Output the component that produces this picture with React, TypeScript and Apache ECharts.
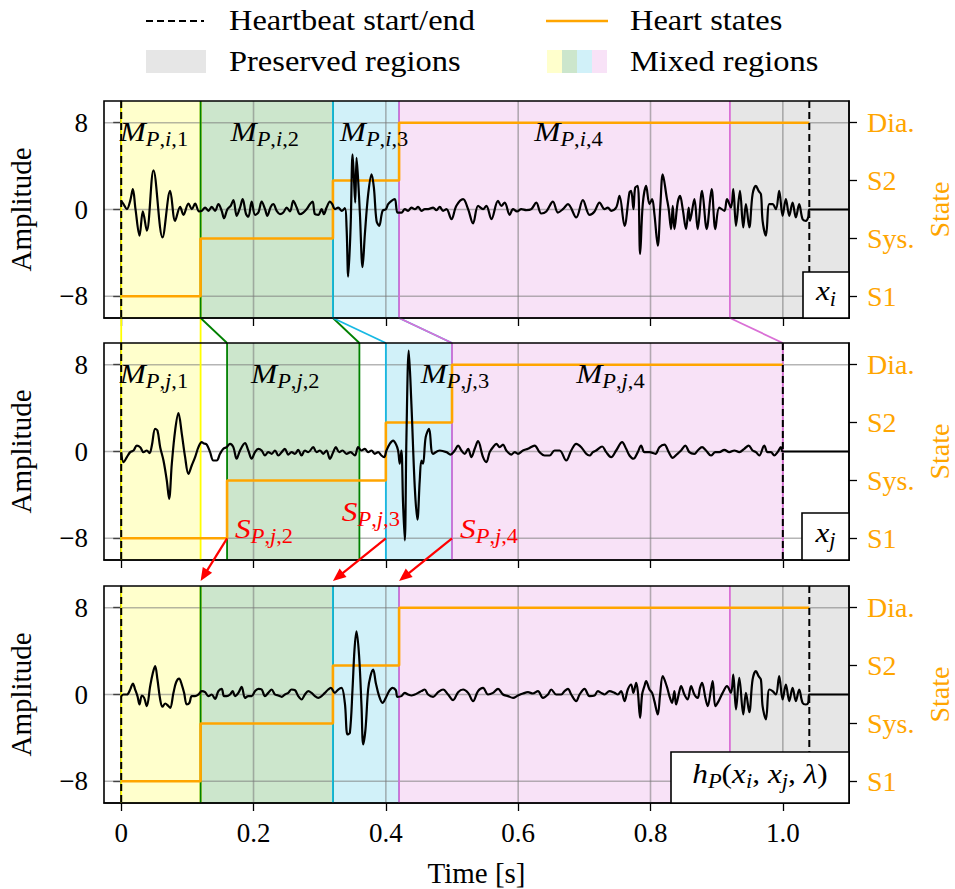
import React, { useEffect, useRef } from 'react';
import * as echarts from 'echarts';

const FONT = '"Liberation Serif", "Times New Roman", serif';
const FAMILY = 'Liberation Serif';

// ---------- data ----------
const xTicks = [0, 0.2, 0.4, 0.6, 0.8, 1.0];
const yTicks = [-8, 0, 8];
const stateLevels = [-8, -2.667, 2.667, 8];
const stateNames = ['S1', 'Sys.', 'S2', 'Dia.'];

// regions: [start, end, kind] kind 0 yellow, 1 green, 2 cyan, 3 pink (mixed), 4 gray (preserved)
const regionsI = [[0, 0.12, 0], [0.12, 0.32, 1], [0.32, 0.42, 2], [0.42, 0.92, 3], [0.92, 1.1, 4]];
const regionsJ = [[0, 0.12, 0], [0.16, 0.36, 1], [0.4, 0.5, 2], [0.5, 1.0, 3]];
const regionsH = [[0, 0.12, 0], [0.12, 0.32, 1], [0.32, 0.42, 2], [0.42, 0.92, 3], [0.92, 1.1, 4]];

const beatsI = [0, 1.04];
const beatsJ = [0, 1.0];
const beatsH = [0, 1.04];

const statesI = [[0, -8], [0.12, -2.667], [0.32, 2.667], [0.42, 8], [1.04, 8]];
const statesJ = [[0, -8], [0.16, -2.667], [0.4, 2.667], [0.5, 8], [1.0, 8]];
const statesH = [[0, -8], [0.12, -2.667], [0.32, 2.667], [0.42, 8], [1.04, 8]];

const signalXi = [
  [0, 0.8], [0.0035, 0.49], [0.0086, 0.03], [0.0136, 0.8], [0.0176, 1.87], [0.0216, 0.03], [0.0277, -2.42], [0.0327, -0.18], [0.0387, -1.96], [0.0488, 3.61], [0.0624, -2.57], [0.074, 1.71], [0.0815, -1.04], [0.0891, 0.24], [0.0941, -0.49], [0.1016, 0.55], [0.1067, 0.03], [0.1117, 0.55], [0.1177, -0.18],
  [0.1218, -0.12], [0.1268, 0.18], [0.1318, -0.12], [0.1369, 0.24], [0.1419, -0.12], [0.1469, 0.49], [0.1519, -0.12], [0.1555, -0.8], [0.1605, 0.03], [0.1655, 0.34], [0.1696, 0.86], [0.1746, -0.58], [0.1796, 0.18], [0.1836, 0.95], [0.1887, -0.43], [0.1922, -0.67], [0.1972, 0.73], [0.2023, -0.49], [0.2073, -0.28], [0.2123, 0.73], [0.2174, 0.03], [0.2209, -0.58], [0.2259, 0.24], [0.2299, 0.49], [0.235, -0.12], [0.24, -0.43], [0.245, -0.28], [0.2501, 0.18], [0.2551, -0.18], [0.2601, 0.8], [0.2652, 0.18], [0.2702, -0.43], [0.2752, -0.28], [0.2803, 0.03], [0.2853, 0.49], [0.2893, 0.73], [0.2928, -0.43], [0.2979, -0.49], [0.3029, 0.03], [0.3064, -0.43], [0.3104, 0.18], [0.3155, 0.73], [0.319, 0.49],
  [0.323, 0.03], [0.328, 0.18], [0.3331, -0.12], [0.3381, 0.12], [0.3406, -1.65], [0.3431, -6.18], [0.3467, -1.65], [0.3497, 5.08], [0.3517, 2.94], [0.3537, 0.64], [0.3557, 4.77], [0.3582, 2.63], [0.3608, -0.43], [0.3648, -5.32], [0.3683, -2.26], [0.3733, 1.41], [0.3784, 3.24], [0.3819, 2.02], [0.3859, -1.04], [0.3899, -1.5], [0.395, -0.12], [0.4, 0.03], [0.4035, 0.49], [0.4086, 0.8], [0.4136, 0.95], [0.4176, -0.28],
  [0.4236, -0.28], [0.4287, 0.03], [0.4337, -0.12], [0.4387, 0.18], [0.4438, 0.03], [0.4488, 0.24], [0.4538, -0.12], [0.4589, 0.03], [0.4639, 0.03], [0.4714, 0.18], [0.4765, -0.06], [0.4815, 0.24], [0.4865, -0.12], [0.4916, 0.03], [0.4991, -0.89], [0.5066, 0.34], [0.5167, 0.95], [0.5243, 0.03], [0.5318, -1.28], [0.5394, 0.34], [0.5469, 0.03], [0.5519, 0.34], [0.5595, -0.89], [0.5695, 0.8], [0.5746, 0.34], [0.5796, 0.64], [0.5872, -0.49], [0.5922, 0.03], [0.5982, -0.18], [0.6047, 0.03], [0.6123, -0.06], [0.6198, 0.03], [0.6274, 0.64], [0.6349, -0.37], [0.6425, -0.18], [0.6525, 0.73], [0.6601, -0.28], [0.6676, 0.03], [0.6752, 0.49], [0.6877, -0.73], [0.6978, 0.86], [0.7079, -0.49], [0.7154, -0.18], [0.7229, 0.64], [0.7305, 0.03], [0.7355, 0.18], [0.7405, -0.12], [0.7481, 0.18], [0.7531, 1.25], [0.7607, -1.5], [0.7682, 1.56], [0.7707, 1.71], [0.7742, 0.03], [0.7768, 2.02], [0.7808, 2.17], [0.7843, -4.1], [0.7883, 0.49], [0.7934, 2.17], [0.7984, 0.49], [0.8024, 0.95], [0.8059, -0.43], [0.811, -3.33], [0.815, 0.49], [0.8185, 3.24], [0.8245, 1.1], [0.8275, 0.03], [0.8311, -1.8], [0.8336, 0.34], [0.8361, -1.8], [0.8411, 0.64], [0.8446, 1.25], [0.8487, 0.03], [0.8537, -1.8], [0.8577, 0.18], [0.8597, -1.04], [0.8663, 0.95], [0.8713, -1.8], [0.8779, 1.71], [0.8849, -1.8], [0.8924, 1.87], [0.898, -1.8], [0.904, 0.18], [0.9116, -0.12], [0.9156, 0.95],
  [0.9216, 0.18], [0.9251, 1.87], [0.9292, -1.5], [0.9352, 1.71], [0.9402, -1.65], [0.9442, 0.49], [0.9493, -1.65], [0.9543, 1.41], [0.9593, 2.17], [0.9634, 1.71], [0.9669, 1.41], [0.9694, -1.04], [0.9744, -2.42], [0.9795, 0.49], [0.9845, 0.49], [0.9895, 0.03], [0.9945, 1.71], [0.9996, -0.58], [1.0046, 0.95], [1.0097, -0.58], [1.0147, 0.64], [1.0197, -0.73], [1.0247, 0.49], [1.0298, -0.89], [1.0348, -1.04], [1.0383, -0.73], [1.04, 0], [1.1, 0],
];

const signalXj = [
  [0, -0.06], [0.0035, -0.98], [0.0086, -0.52], [0.0136, -0.06], [0.0186, 0.09], [0.0236, 0.55], [0.0287, 0.4], [0.0337, -0.06], [0.0387, 0.09], [0.0428, -0.15], [0.0463, 0.55], [0.0513, 2.09], [0.0548, 1.93], [0.0589, 0.4], [0.0639, -0.83], [0.0689, -2.67], [0.0724, -4.36], [0.0765, -1.13], [0.0815, 1.93], [0.0865, 3.53], [0.0916, 1.63], [0.0966, -0.52], [0.1016, -2.06], [0.1066, -1.29], [0.1117, -0.52], [0.1167, 0.4], [0.1217, 0.86],
  [0.1242, 0.77], [0.1293, 0.64], [0.1343, -0.06], [0.1393, -0.83], [0.1443, -0.83], [0.1494, -0.21], [0.1544, 0.25], [0.1594, 0.4], [0.1645, 0.71], [0.1695, 0.4], [0.1745, -0.67], [0.1796, 0.09], [0.1871, 0.77], [0.1921, 0.09], [0.1972, -0.67], [0.2022, -0.06], [0.2072, 0.25], [0.2123, 0.09], [0.2173, -0.37], [0.2223, -0.06], [0.2274, -0.21], [0.2324, 0.09], [0.2375, -0.37], [0.2425, -0.06], [0.2475, 0.25], [0.2525, -0.28], [0.2575, -0.06], [0.2626, -0.21], [0.2676, 0.15], [0.2726, -0.37], [0.2777, 0.09], [0.2827, -0.06], [0.2902, 0.4], [0.2953, -0.06], [0.3003, 0.09], [0.3053, -0.21], [0.3103, 0.09], [0.3154, -0.67], [0.3204, -0.06], [0.3244, 0.4], [0.3295, -0.06], [0.3345, 0.09], [0.3405, -0.21], [0.3466, -0.06], [0.3531, -0.37], [0.3581, 0.4], [0.3632, 0.09], [0.3682, 0.25], [0.3732, -0.06], [0.3783, 0.09], [0.3833, -0.21], [0.3883, -0.06], [0.3933, -0.37], [0.3974, -0.52],
  [0.4009, 0.09], [0.4059, 0.71], [0.411, 1.01], [0.415, 0.71], [0.4185, 0.09], [0.421, -1.13], [0.4235, 0.09], [0.426, -4.82], [0.4286, -8.19], [0.4311, 1.32], [0.4346, 9.29], [0.4386, 4.39], [0.4437, -3.28], [0.4477, -6.29], [0.4512, -2.67], [0.4537, -0.83], [0.4562, -1.13], [0.4602, 1.32], [0.4653, 2.09], [0.4713, -0.21], [0.4815, 0.09], [0.4916, -0.06], [0.4976, -0.28],
  [0.5041, 0.09], [0.5092, 0.55], [0.5142, 0.09], [0.5192, -0.21], [0.5243, 0.25], [0.5293, -0.52], [0.5343, 0.25], [0.5393, 0.95], [0.5469, -0.52], [0.5519, -0.98], [0.5569, -0.06], [0.562, 0.4], [0.567, 0.71], [0.572, 0.4], [0.5771, 0.64], [0.5821, 0.09], [0.5896, -0.28], [0.5947, -0.06], [0.5997, -0.21], [0.6072, 0.09], [0.6148, 0.25], [0.6248, 0.55], [0.6324, -0.06], [0.6399, -0.37], [0.6475, -0.37], [0.655, 0.09], [0.6626, 0.09], [0.6726, -0.83], [0.6802, 0.09], [0.6877, 0.71], [0.6953, 0.4], [0.7028, -0.21], [0.7078, -0.37], [0.7129, -0.06], [0.7179, 0.09], [0.727, 0.46], [0.733, -0.06], [0.7405, -0.52], [0.7481, 0.09], [0.7571, 0.86], [0.7632, 0.25], [0.7682, -0.37], [0.7742, -0.67], [0.7808, -0.06], [0.7858, 0.55], [0.7908, -0.06], [0.7984, -0.06], [0.8074, -0.21], [0.8135, 0.4], [0.821, 0.64], [0.8275, -0.06], [0.8336, -0.58], [0.8396, -0.28], [0.8462, 0.09], [0.8527, 0.55], [0.8587, -0.06], [0.8663, -0.21], [0.8713, 0.09], [0.8779, 0.4], [0.8839, 0.09], [0.8914, -0.37], [0.898, -0.06], [0.904, -0.06], [0.9116, 0.15], [0.9191, -0.06], [0.9267, 0.09], [0.9342, -0.06], [0.9417, 0.25], [0.9483, 0.55], [0.9543, 0.09], [0.9593, -0.06], [0.9644, -0.37], [0.9719, 0.55], [0.9769, -0.06], [0.982, -0.06], [0.987, -0.37], [0.992, -0.06], [0.9971, 0.4], [1.0, 0], [1.1, 0],
];

const signalH = [
  [0, -0.15], [0.0035, 0], [0.0086, 0], [0.0136, 0.46], [0.0176, 1.01], [0.0211, 0.46], [0.0246, -0.15], [0.0277, -0.92], [0.0312, -0.09], [0.0347, -0.31], [0.0387, -1.07], [0.0438, 0.77], [0.0478, 1.99], [0.0513, 2.61], [0.0548, 1.38], [0.0589, -0.46], [0.0624, -1.13], [0.0664, -0.83], [0.0714, -1.07], [0.074, -1.23], [0.079, 0.15], [0.083, 1.13], [0.0875, 1.47], [0.0915, 0.92], [0.0951, 0.15], [0.0991, -0.92], [0.1031, -0.77], [0.1066, -0.15], [0.1117, -0.15], [0.1167, 0],
  [0.1217, 0.31], [0.1268, 0.21], [0.1318, -0.15], [0.1368, 0], [0.1418, -0.4], [0.1469, 0.31], [0.1519, 0.52], [0.1554, -0.15], [0.1594, -0.15], [0.1645, 0], [0.1685, 0.31], [0.172, -0.15], [0.1771, 0.15], [0.1821, 0.71], [0.1871, -0.31], [0.1921, -0.15], [0.1972, -0.15], [0.2022, 0.31], [0.2072, 0.52], [0.2123, 0.46], [0.2173, -0.15], [0.2223, 0.15], [0.2274, 0.46], [0.2324, 0], [0.2374, -0.09], [0.2425, -0.21], [0.2475, 0], [0.2525, 0.15], [0.2575, 0.46], [0.2626, 0.4], [0.2676, -0.15], [0.2726, -0.46], [0.2777, 0], [0.2827, 0.31], [0.2877, 0.15], [0.2928, -0.15], [0.2978, -0.31], [0.3028, -0.15], [0.3078, 0.15], [0.3129, 0.46], [0.3169, 0.61],
  [0.3229, 0.15], [0.328, 0.46], [0.333, 0.61], [0.338, -0.77], [0.342, -3.68], [0.3456, -3.53], [0.3496, 0.46], [0.3526, 4.14], [0.3556, 5.83], [0.3596, 3.53], [0.3632, -1.07], [0.3657, -4.6], [0.3692, -3.22], [0.3732, 0.46], [0.3767, 1.69], [0.3808, 2.3], [0.3848, 1.07], [0.3898, -0.15], [0.3949, -0.77], [0.3999, -0.31], [0.4049, 0.31], [0.41, 0.61], [0.415, 0.4], [0.4175, -0.21],
  [0.4235, -0.15], [0.4286, 0.15], [0.4336, 0], [0.4386, -0.09], [0.4437, 0], [0.4487, 0.15], [0.4537, 0.31], [0.4587, 0.46], [0.4638, 0], [0.4714, -0.21], [0.479, 0.21], [0.4865, 0.46], [0.4941, 0], [0.5016, -0.52], [0.5092, 0.21], [0.5167, 0.46], [0.5243, 0.15], [0.5318, -0.61], [0.5393, 0.31], [0.5469, 0.61], [0.5544, 0], [0.562, 0.15], [0.5695, 0.52], [0.5771, 0], [0.5846, -0.15], [0.5922, -0.31], [0.5997, -0.09], [0.6072, 0.09], [0.6148, 0.21], [0.6223, 0.09], [0.6299, 0.31], [0.6374, -0.31], [0.645, 0], [0.65, 0.46], [0.6575, 0], [0.6651, 0], [0.6701, 0.31], [0.6752, 0.52], [0.6802, 0], [0.6877, -0.61], [0.6928, 0], [0.7003, 0.52], [0.7078, -0.15], [0.7154, -0.09], [0.7204, 0.31], [0.7254, 0.15], [0.7305, 0], [0.738, 0.31], [0.7456, 0.15], [0.7506, 0], [0.7556, 0.31], [0.7607, -0.61], [0.7657, 0.46], [0.7707, 0.92], [0.7742, 0.15], [0.7783, 1.07], [0.7808, 0.31], [0.7843, -2.15], [0.7873, 0], [0.7908, 0.77], [0.7934, 1.23], [0.7984, 0.46], [0.8024, 0.15], [0.8059, -0.61], [0.811, -1.84], [0.8145, 0], [0.8185, 1.69], [0.8245, 0.77], [0.8286, -0.15], [0.8326, -0.77], [0.8361, 0.31], [0.8386, -0.92], [0.8437, 0.31], [0.8462, 0.77], [0.8512, 0], [0.8562, -0.46], [0.8613, 0.77], [0.8663, 0], [0.8713, -0.31], [0.8748, 0.61], [0.8779, 1.07], [0.8829, -0.31], [0.8864, -1.07], [0.8914, 0.46], [0.894, 1.23], [0.898, -1.07], [0.903, -0.61], [0.909, 0.15], [0.9156, 0.77],
  [0.9216, 0.15], [0.9251, 1.84], [0.9292, -1.38], [0.9342, 1.53], [0.9402, -1.84], [0.9442, 0.15], [0.9493, -1.63], [0.9543, 1.38], [0.9593, 2.15], [0.9634, 1.69], [0.9669, 1.38], [0.9694, -1.07], [0.9744, -2.3], [0.9795, 0.46], [0.9845, 0.31], [0.9895, 0], [0.9945, 1.69], [0.9996, -0.46], [1.0046, 0.92], [1.0097, -0.61], [1.0147, 0.61], [1.0197, -0.61], [1.0247, 0.46], [1.0298, -0.77], [1.0348, -0.92], [1.0383, -0.77], [1.04, 0], [1.1, 0],
];

const panelTags = ['i', 'j'];

// ---------- styles / layout ----------
const XMIN = -0.026, XMAX = 1.1, YMIN = -10, YMAX = 10;
const GRID_LEFT = 104, GRID_WIDTH = 745;
const GRID_TOPS = [101, 343, 586];
const GRID_HEIGHT = 217;
const FILLS = ['rgba(255,255,0,0.2)', 'rgba(0,128,0,0.2)', 'rgba(23,185,227,0.2)', 'rgba(218,112,214,0.2)', 'rgba(128,128,128,0.2)'];
const STROKES = ['#ffff00', '#008000', '#17b9e3', '#da70d6'];
const ORANGE = '#ffa500';
const TEXT_SX = 1.12;

let measureCtx: CanvasRenderingContext2D | null = null;
function measure(t: string, size: number, italic: boolean) {
  if (!measureCtx) measureCtx = document.createElement('canvas').getContext('2d');
  measureCtx!.font = `${italic ? 'italic ' : ''}${size}px "Liberation Serif"`;
  return measureCtx!.measureText(t).width;
}

type Piece = { t: string; it?: boolean; sub?: boolean };
function mathGroup(pieces: Piece[], x: number, y: number, size: number, color: string, align: 'left' | 'center', z: number) {
  const subSize = Math.round(size * 0.7);
  let cx = 0;
  const children: any[] = [];
  for (const p of pieces) {
    const s = p.sub ? subSize : size;
    const w = measure(p.t, s, !!p.it);
    children.push({
      type: 'text', x: cx, y: p.sub ? size * 0.3 : 0, z,
      style: {
        text: p.t, font: `${p.it ? 'italic ' : ''}${s}px ${FONT}`, fill: color,
        textAlign: 'left', align: 'left', textVerticalAlign: 'middle', verticalAlign: 'middle',
      },
    });
    cx += w;
  }
  const off = align === 'center' ? -cx / 2 : 0;
  children.forEach((c) => (c.x += off));
  return { type: 'group', x, y, scaleX: TEXT_SX, silent: true, children };
}

function plainText(t: string, x: number, y: number, size: number, z: number) {
  return {
    type: 'text', x, y, z, scaleX: TEXT_SX, silent: true,
    style: { text: t, font: `${size}px ${FONT}`, fill: '#000', textAlign: 'left', align: 'left', textVerticalAlign: 'middle', verticalAlign: 'middle' },
  };
}

const panels = [
  { signal: signalXi, states: statesI, regions: regionsI, beats: beatsI },
  { signal: signalXj, states: statesJ, regions: regionsJ, beats: beatsJ },
  { signal: signalH, states: statesH, regions: regionsH, beats: beatsH },
];

function buildOption() {
  const grid: any[] = [], xAxis: any[] = [], yAxis: any[] = [], series: any[] = [];
  panels.forEach((p, g) => {
    grid.push({ left: GRID_LEFT, top: GRID_TOPS[g], width: GRID_WIDTH, height: GRID_HEIGHT, containLabel: false, outerBoundsMode: 'none' });
    xAxis.push({
      type: 'value', gridIndex: g, min: XMIN, max: XMAX,
      axisLine: { show: true, onZero: false, lineStyle: { color: '#000', width: 1.5 } },
      splitLine: { show: false },
      axisTick: { show: true, customValues: xTicks, length: 8, lineStyle: { color: '#000', width: 1.3 } },
      axisLabel: {
        show: g === 2, customValues: xTicks, margin: 16, fontSize: 27, fontFamily: FAMILY, color: '#000',
        formatter: (v: number) => (v === 0 ? '0' : v.toFixed(1)),
      },
      name: g === 2 ? 'Time [s]' : '', nameLocation: 'middle', nameGap: 55,
      nameTextStyle: { fontSize: 29, fontFamily: FAMILY, color: '#000' },
    });
    yAxis.push({
      type: 'value', gridIndex: g, position: 'left', min: YMIN, max: YMAX,
      axisLine: { show: true, lineStyle: { color: '#000', width: 1.5 } },
      splitLine: { show: false },
      axisTick: { show: true, customValues: yTicks, length: 8, lineStyle: { color: '#000', width: 1.3 } },
      axisLabel: {
        customValues: yTicks, margin: 16, fontSize: 27, fontFamily: FAMILY, color: '#000',
        formatter: (v: number) => (v < 0 ? '\u2212' + Math.abs(v) : String(v)),
      },
      name: 'Amplitude', nameLocation: 'middle', nameRotate: 90, nameGap: 69,
      nameTextStyle: { fontSize: 29, fontFamily: FAMILY, color: '#000' },
    });
    yAxis.push({
      type: 'value', gridIndex: g, position: 'right', min: YMIN, max: YMAX,
      axisLine: { show: true, lineStyle: { color: '#000', width: 1.5 } },
      splitLine: { show: false },
      axisTick: { show: true, customValues: stateLevels, length: 8, lineStyle: { color: '#000', width: 1.3 } },
      axisLabel: {
        customValues: stateLevels, margin: 18, fontSize: 28, fontFamily: FAMILY, color: ORANGE,
        formatter: (v: number) => {
          let best = 0;
          stateLevels.forEach((s, k) => { if (Math.abs(s - v) < Math.abs(stateLevels[best] - v)) best = k; });
          return stateNames[best];
        },
      },
      name: 'State', nameLocation: 'middle', nameRotate: 90, nameGap: 74,
      nameTextStyle: { fontSize: 28, fontFamily: FAMILY, color: ORANGE },
    });
    const yi = 2 * g;
    series.push({
      type: 'custom', xAxisIndex: g, yAxisIndex: yi, z: 1, silent: true, data: p.regions,
      renderItem: (_: any, api: any) => {
        const a = api.coord([api.value(0), YMAX]);
        const b = api.coord([api.value(1), YMIN]);
        return { type: 'rect', shape: { x: a[0], y: a[1], width: b[0] - a[0], height: b[1] - a[1] }, style: { fill: FILLS[api.value(2)] } };
      },
    });
    const gridData = xTicks.map((v) => [v, 0]).concat(yTicks.map((v) => [v, 1]));
    series.push({
      type: 'custom', xAxisIndex: g, yAxisIndex: yi, z: 2, silent: true, data: gridData,
      renderItem: (_: any, api: any) => {
        const v = api.value(0);
        const o = api.value(1);
        const a = o === 0 ? api.coord([v, YMAX]) : api.coord([XMIN, v]);
        const b = o === 0 ? api.coord([v, YMIN]) : api.coord([XMAX, v]);
        return { type: 'line', shape: { x1: a[0], y1: a[1], x2: b[0], y2: b[1] }, style: { stroke: 'rgba(120,120,120,0.55)', lineWidth: 1.6 } };
      },
    });
    const boundData: number[][] = [];
    p.regions.forEach((r) => { if (r[2] < 4) { boundData.push([r[0], r[2]]); boundData.push([r[1], r[2]]); } });
    series.push({
      type: 'custom', xAxisIndex: g, yAxisIndex: yi, z: 3, silent: true, data: boundData,
      renderItem: (_: any, api: any) => {
        const a = api.coord([api.value(0), YMAX]);
        const b = api.coord([api.value(0), YMIN]);
        return { type: 'line', shape: { x1: a[0], y1: a[1], x2: b[0], y2: b[1] }, style: { stroke: STROKES[api.value(1)], lineWidth: 1.8 } };
      },
    });
    series.push({
      type: 'line', xAxisIndex: g, yAxisIndex: yi, z: 4, silent: true, step: 'end', data: p.states,
      symbol: 'none', showSymbol: false, lineStyle: { color: ORANGE, width: 2.6 },
    });
    series.push({
      type: 'line', xAxisIndex: g, yAxisIndex: yi, z: 5, silent: true, data: p.signal, smooth: 0.35,
      symbol: 'none', showSymbol: false, lineStyle: { color: '#000', width: 2.2 },
    });
    series.push({
      type: 'custom', xAxisIndex: g, yAxisIndex: yi, z: 6, silent: true, data: p.beats.map((b) => [b, 0]),
      renderItem: (_: any, api: any) => {
        const a = api.coord([api.value(0), YMAX]);
        const b = api.coord([api.value(0), YMIN]);
        return { type: 'line', shape: { x1: a[0], y1: a[1], x2: b[0], y2: b[1] }, style: { stroke: '#000', lineWidth: 2, lineDash: [7, 4] } };
      },
    });
  });
  return { animation: false, backgroundColor: '#fff', grid, xAxis, yAxis, series };
}

function buildGraphics(chart: echarts.ECharts) {
  const px = (g: number, x: number, y: number) => chart.convertToPixel({ gridIndex: g }, [x, y]) as number[];
  const els: any[] = [];
  // frames
  panels.forEach((_, g) => {
    const a = px(g, XMIN, YMAX), b = px(g, XMAX, YMIN);
    els.push({ type: 'rect', z: 90, silent: true, shape: { x: a[0], y: a[1], width: b[0] - a[0], height: b[1] - a[1] }, style: { fill: 'none', stroke: '#000', lineWidth: 1.6 } });
  });
  // connectors between panel 1 and panel 2
  regionsI.forEach((ri) => {
    const k = ri[2];
    if (k > 3) return;
    const rj = regionsJ.find((r) => r[2] === k)!;
    [0, 1].forEach((e) => {
      const a = px(0, ri[e], YMIN), b = px(1, rj[e], YMAX);
      els.push({ type: 'line', z: 80, silent: true, shape: { x1: a[0], y1: a[1], x2: b[0], y2: b[1] }, style: { stroke: STROKES[k], lineWidth: 1.8 } });
    });
  });
  // M labels
  const nudges = [[-7, -2, 8, 4], [-7, -8, 36, -7]];
  [0, 1].forEach((g) => {
    panels[g].regions.forEach((r) => {
      const k = r[2];
      if (k > 3) return;
      const c = px(g, (r[0] + r[1]) / 2, 7.2);
      els.push(mathGroup([
        { t: 'M', it: true }, { t: 'P', it: true, sub: true }, { t: ',', sub: true }, { t: panelTags[g], it: true, sub: true }, { t: ',', sub: true }, { t: String(k + 1), sub: true },
      ], c[0] + nudges[g][k], c[1], 28, '#000', 'center', 60));
    });
  });
  // red arrows
  const labelOff = [[8, -10], [-44, -27], [8, -10]];
  [1, 2, 3].forEach((k, n) => {
    const s = px(1, statesJ[k][0], statesJ[0][1]);
    const e0 = px(2, regionsH[k][0], YMAX);
    const e = [e0[0], e0[1] - 5];
    const dx = e[0] - s[0], dy = e[1] - s[1];
    const L = Math.hypot(dx, dy);
    const ux = dx / L, uy = dy / L;
    const hl = 13, hw = 5.5;
    const bx = e[0] - ux * hl, by = e[1] - uy * hl;
    els.push({ type: 'line', z: 97, silent: true, shape: { x1: s[0], y1: s[1], x2: bx + ux * 2, y2: by + uy * 2 }, style: { stroke: '#ff0000', lineWidth: 2.2 } });
    els.push({ type: 'polygon', z: 97, silent: true, shape: { points: [[e[0], e[1]], [bx - uy * hw, by + ux * hw], [bx + uy * hw, by - ux * hw]] }, style: { fill: '#ff0000' } });
    els.push(mathGroup([
      { t: 'S', it: true }, { t: 'P', it: true, sub: true }, { t: ',', sub: true }, { t: 'j', it: true, sub: true }, { t: ',', sub: true }, { t: String(k + 1), sub: true },
    ], s[0] + labelOff[n][0], s[1] + labelOff[n][1], 28, '#ff0000', 'left', 98));
  });
  // name boxes
  const boxes: { w: number; h: number; pieces: Piece[] }[] = [
    { w: 46, h: 46, pieces: [{ t: 'x', it: true }, { t: 'i', it: true, sub: true }] },
    { w: 47, h: 47, pieces: [{ t: 'x', it: true }, { t: 'j', it: true, sub: true }] },
    { w: 178, h: 51, pieces: [
      { t: 'h', it: true }, { t: 'P', it: true, sub: true }, { t: '(' }, { t: 'x', it: true }, { t: 'i', it: true, sub: true }, { t: ', ' },
      { t: 'x', it: true }, { t: 'j', it: true, sub: true }, { t: ', ' }, { t: '\u03bb', it: true }, { t: ')' },
    ] },
  ];
  boxes.forEach((bx, g) => {
    const c = px(g, XMAX, YMIN);
    els.push({ type: 'rect', z: 95, silent: true, shape: { x: c[0] - bx.w, y: c[1] - bx.h, width: bx.w, height: bx.h }, style: { fill: '#fff', stroke: '#000', lineWidth: 1.6 } });
    els.push(mathGroup(bx.pieces, c[0] - bx.w / 2, c[1] - bx.h / 2 - 4, 28, '#000', 'center', 96));
  });
  // legend
  els.push({ type: 'line', z: 100, silent: true, shape: { x1: 146, y1: 21, x2: 204, y2: 21 }, style: { stroke: '#000', lineWidth: 2, lineDash: [7, 4] } });
  els.push(plainText('Heartbeat start/end', 229, 21, 29, 100));
  els.push({ type: 'line', z: 100, silent: true, shape: { x1: 546, y1: 21, x2: 608, y2: 21 }, style: { stroke: ORANGE, lineWidth: 2.6 } });
  els.push(plainText('Heart states', 630, 21, 29, 100));
  els.push({ type: 'rect', z: 100, silent: true, shape: { x: 146, y: 50, width: 60, height: 23 }, style: { fill: FILLS[4] } });
  els.push(plainText('Preserved regions', 229, 62, 29, 100));
  [0, 1, 2, 3].forEach((k) => {
    els.push({ type: 'rect', z: 100, silent: true, shape: { x: 547 + 15 * k, y: 50, width: 15, height: 23 }, style: { fill: FILLS[k] } });
  });
  els.push(plainText('Mixed regions', 630, 62, 29, 100));
  return els;
}

export default function App() {
  const ref = useRef<HTMLDivElement>(null);
  useEffect(() => {
    if (!ref.current) return;
    const chart = echarts.init(ref.current, undefined, { renderer: 'svg' });
    chart.setOption(buildOption() as any);
    chart.setOption({ graphic: { elements: buildGraphics(chart) } } as any);
    return () => chart.dispose();
  }, []);
  return <div ref={ref} style={{ position: 'fixed', left: 0, top: 0, width: 955, height: 889, background: '#fff' }} />;
}
